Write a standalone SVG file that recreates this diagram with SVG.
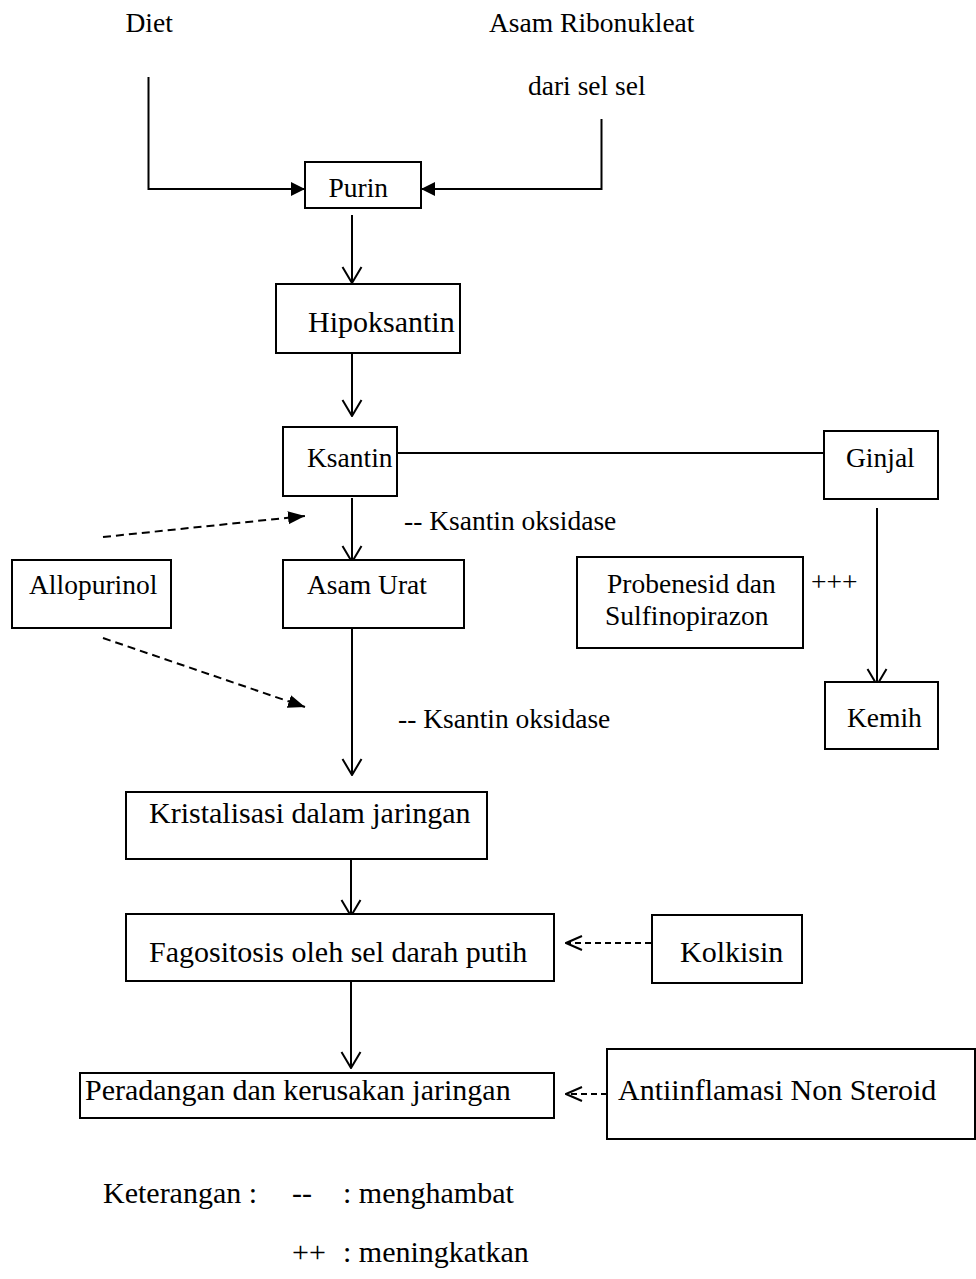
<svg xmlns="http://www.w3.org/2000/svg" width="976" height="1279" viewBox="0 0 976 1279">
<style>
rect.box{fill:#fff;stroke:#000;stroke-width:2}
text{font-family:"Liberation Serif","Times New Roman",serif;fill:#000}
.s{font-size:27.5px}
.l{font-size:30px}
.ln{fill:none;stroke:#000;stroke-width:2}
.dash{stroke-dasharray:8 5}
.dash2{stroke-dasharray:6 4}
</style>
<defs>
<marker id="fill" markerUnits="userSpaceOnUse" markerWidth="14" markerHeight="16" viewBox="0 0 14 16" refX="14" refY="8" orient="auto"><path d="M0,1 L14,8 L0,15 Z" fill="#000"/></marker>
<marker id="fill2" markerUnits="userSpaceOnUse" markerWidth="17" markerHeight="16" viewBox="0 0 17 16" refX="17" refY="8" orient="auto"><path d="M0,1.5 L17,8 L0,14.5 Z" fill="#000"/></marker>
<marker id="vee" markerUnits="userSpaceOnUse" markerWidth="18" markerHeight="22" viewBox="0 0 18 22" refX="17" refY="11" orient="auto"><path d="M1,1.5 L17,11 L1,20.5" fill="none" stroke="#000" stroke-width="2"/></marker>
<marker id="vee2" markerUnits="userSpaceOnUse" markerWidth="18" markerHeight="18" viewBox="0 0 18 18" refX="17" refY="9" orient="auto"><path d="M1,2 L17,9 L1,16" fill="none" stroke="#000" stroke-width="2"/></marker>
</defs>

<g id="connectors">
<polyline class="ln" points="148.5,77 148.5,189 305,189" marker-end="url(#fill)"/>
<polyline class="ln" points="601.5,119 601.5,189 421,189" marker-end="url(#fill)"/>
<line class="ln" x1="352" y1="215" x2="352" y2="283" marker-end="url(#vee)"/>
<line class="ln" x1="352" y1="354" x2="352" y2="416" marker-end="url(#vee)"/>
<line class="ln" x1="352" y1="498" x2="352" y2="562" marker-end="url(#vee)"/>
<line class="ln" x1="352" y1="620" x2="352" y2="775" marker-end="url(#vee)"/>
<line class="ln" x1="351" y1="853" x2="351" y2="916" marker-end="url(#vee)"/>
<line class="ln" x1="351" y1="981" x2="351" y2="1068" marker-end="url(#vee)"/>
<line class="ln" x1="397" y1="453" x2="824" y2="453"/>
<line class="ln" x1="877" y1="508" x2="877" y2="685" marker-end="url(#vee)"/>
<line class="ln dash" x1="103" y1="537" x2="305" y2="516" marker-end="url(#fill2)"/>
<line class="ln dash" x1="103" y1="638" x2="305" y2="707" marker-end="url(#fill2)"/>
<line class="ln dash2" x1="651" y1="943" x2="566" y2="943" marker-end="url(#vee2)"/>
<line class="ln dash2" x1="607" y1="1094" x2="566" y2="1094" marker-end="url(#vee2)"/>
</g>

<g id="diet"><text class="s" x="125.5" y="31.5">Diet</text></g>
<g id="asam-ribonukleat"><text class="s" x="489" y="31.5">Asam Ribonukleat</text><text class="s" x="528" y="95">dari sel sel</text></g>

<g id="purin"><rect class="box" x="305" y="162" width="116" height="46"/><text class="s" x="328.5" y="197">Purin</text></g>
<g id="hipoksantin"><rect class="box" x="276" y="284" width="184" height="69"/><text class="l" x="308" y="332">Hipoksantin</text></g>
<g id="ksantin"><rect class="box" x="283" y="427" width="114" height="69"/><text class="s" x="307" y="467">Ksantin</text></g>
<g id="ginjal"><rect class="box" x="824" y="431" width="114" height="68"/><text class="s" x="846" y="467">Ginjal</text></g>
<g id="label-ko1"><text class="s" x="404" y="530">-- Ksantin oksidase</text></g>
<g id="allopurinol"><rect class="box" x="12" y="560" width="159" height="68"/><text class="s" x="29" y="594">Allopurinol</text></g>
<g id="asam-urat"><rect class="box" x="283" y="560" width="181" height="68"/><text class="s" x="307" y="594">Asam Urat</text></g>
<g id="probenesid"><rect class="box" x="577" y="557" width="226" height="91"/><text class="s" x="607" y="593">Probenesid dan</text><text class="s" x="605" y="625">Sulfinopirazon</text></g>
<g id="label-plus"><text class="s" x="811" y="591">+++</text></g>
<g id="label-ko2"><text class="s" x="398" y="728">-- Ksantin oksidase</text></g>
<g id="kemih"><rect class="box" x="825" y="682" width="113" height="67"/><text class="s" x="847" y="727">Kemih</text></g>
<g id="kristalisasi"><rect class="box" x="126" y="792" width="361" height="67"/><text class="l" x="149" y="823">Kristalisasi dalam jaringan</text></g>
<g id="fagositosis"><rect class="box" x="126" y="914" width="428" height="67"/><text class="l" x="149" y="962">Fagositosis oleh sel darah putih</text></g>
<g id="kolkisin"><rect class="box" x="652" y="915" width="150" height="68"/><text class="l" x="680" y="962">Kolkisin</text></g>
<g id="peradangan"><rect class="box" x="80" y="1073" width="474" height="45"/><text class="l" x="85" y="1100">Peradangan dan kerusakan jaringan</text></g>
<g id="antiinflamasi"><rect class="box" x="607" y="1049" width="368" height="90"/><text class="l" x="618" y="1100">Antiinflamasi Non Steroid</text></g>

<g id="legend">
<text class="l" x="103" y="1203">Keterangan :</text>
<text class="l" x="292" y="1203">--</text>
<text class="l" x="343" y="1203">: menghambat</text>
<text class="l" x="292" y="1262">++</text>
<text class="l" x="343" y="1262">: meningkatkan</text>
</g>
</svg>
